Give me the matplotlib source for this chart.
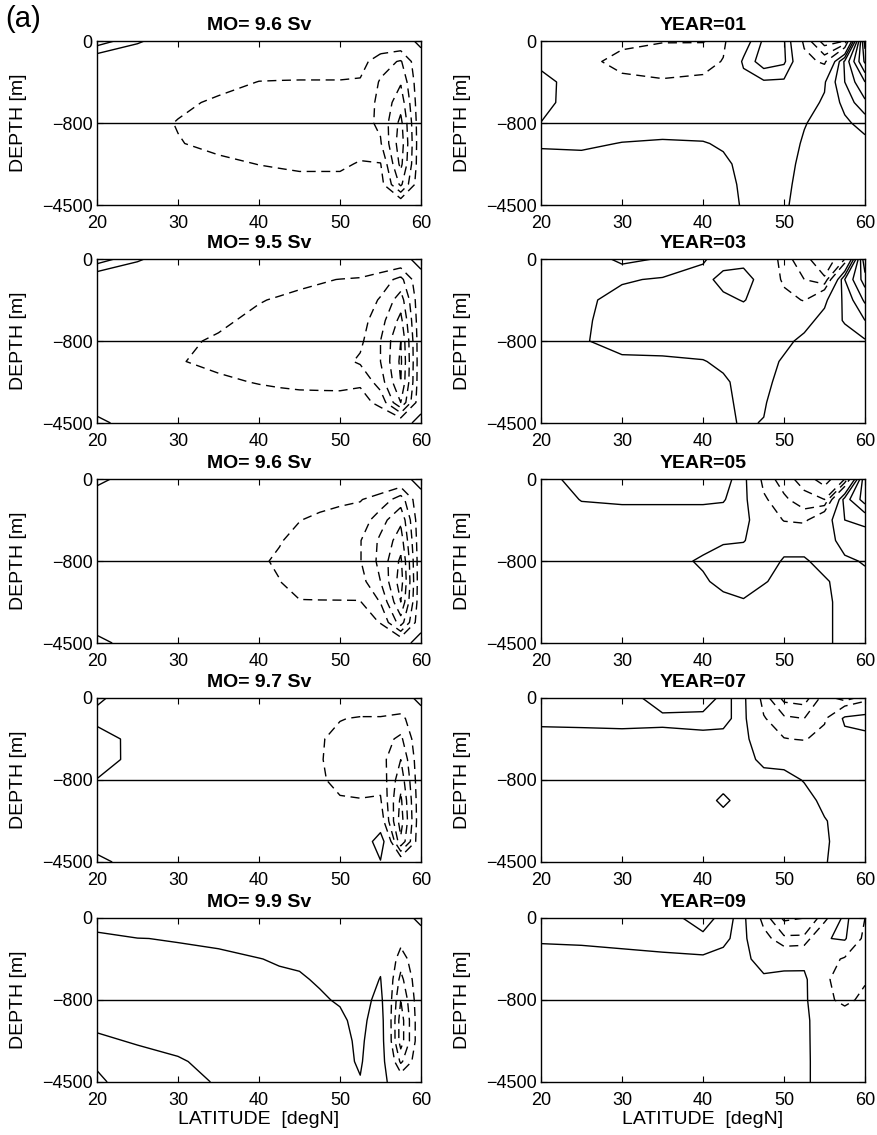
import numpy as np
import matplotlib
matplotlib.use("Agg")
import matplotlib.pyplot as plt

plt.rcParams['font.family'] = ['Liberation Sans', 'DejaVu Sans']
plt.rcParams['lines.scale_dashes'] = False
plt.rcParams['lines.dashed_pattern'] = [6.5, 4.0]

# ---------------- data ----------------
LAT = [20, 25, 30, 35, 40, 42.5, 45, 47.5, 50, 52.5, 55, 57.5, 60]
# pseudo-depth coordinate: 0 = surface, -1 = 800 m, -2 = 4500 m
DEPTH_POS = [0, -0.25, -0.5, -0.75, -1.0, -1.25, -1.5, -1.75, -2.0]
DEPTH_TICKS = [0, -1, -2]
DEPTH_LABELS = ['0', '\u2212800', '\u22124500']
LAT_TICKS = [20, 30, 40, 50, 60]
LEVELS_NEG = [-6, -5, -4, -3, -2, -1]
LEVELS_POS = [1, 2, 3, 4, 5, 6, 7, 8, 9]

LEFT_TITLES = ['MO= 9.6 Sv', 'MO= 9.5 Sv', 'MO= 9.6 Sv', 'MO= 9.7 Sv', 'MO= 9.9 Sv']
RIGHT_TITLES = ['YEAR=01', 'YEAR=03', 'YEAR=05', 'YEAR=07', 'YEAR=09']

# each field: one list per latitude column (LAT order), values top->bottom (DEPTH_POS order)
MO_1 = [
    [2.6, 0, 0, 0, 0, 0, 0, 0, 0],
    [1.2, -0.3, -0.4, -0.5, -0.6, -0.55, -0.4, -0.2, 0],
    [0, -0.3, -0.5, -0.8, -1.05, -0.95, -0.7, -0.4, 0],
    [0, -0.4, -0.7, -1.15, -1.35, -1.25, -0.8, -0.5, 0],
    [0, -0.5, -1.02, -1.3, -1.4, -1.4, -1.02, -0.6, 0],
    [0, -0.52, -1.04, -1.33, -1.43, -1.43, -1.1, -0.62, 0],
    [0, -0.55, -1.05, -1.35, -1.45, -1.45, -1.2, -0.65, 0],
    [0, -0.55, -1.05, -1.38, -1.48, -1.48, -1.2, -0.65, 0],
    [0, -0.55, -1.05, -1.4, -1.5, -1.5, -1.2, -0.65, 0],
    [0, -0.6, -1.1, -1.5, -1.6, -1.5, -0.9, -0.6, 0],
    [0, -1.6, -2.1, -2.2, -2.2, -1.9, -0.95, -0.6, 0],
    [0, -2.1, -2.9, -3.6, -4.3, -4.6, -4.3, -3.2, 0],
    [1.5, 0, 0, 0, 0, 0, 0, 0, 0],
]
MO_2 = [
    [2.6, 0, 0, 0, 0, 0, 0, 0, 1.5],
    [1.2, -0.3, -0.35, -0.4, -0.45, -0.45, -0.35, -0.2, 0],
    [0, -0.3, -0.45, -0.65, -0.85, -0.95, -0.7, -0.4, 0],
    [0, -0.4, -0.6, -0.85, -1.1, -1.2, -0.85, -0.5, 0],
    [0, -0.5, -0.95, -1.2, -1.3, -1.3, -1.05, -0.6, 0],
    [0, -0.65, -1.08, -1.28, -1.35, -1.35, -1.15, -0.6, 0],
    [0, -0.8, -1.2, -1.35, -1.4, -1.4, -1.25, -0.6, 0],
    [0, -0.92, -1.28, -1.42, -1.5, -1.5, -1.28, -0.6, 0],
    [0, -1.02, -1.35, -1.5, -1.6, -1.7, -1.3, -0.6, 0],
    [0, -1.1, -1.4, -1.6, -1.8, -2.15, -1.15, -0.6, 0],
    [0, -1.5, -2.1, -2.6, -3.0, -3.0, -2.5, -1.3, 0],
    [0, -2.3, -3.5, -4.3, -5.0, -5.2, -5.0, -4.0, 0],
    [2.0, 0, 0, 0, 0, 0, 0, 0, 1.8],
]
MO_3 = [
    [1.5, 0, 0, 0, 0, 0, 0, 0, 1.6],
    [0, -0.2, -0.25, -0.3, -0.35, -0.35, -0.3, -0.15, 0],
    [0, -0.25, -0.35, -0.45, -0.5, -0.5, -0.4, -0.2, 0],
    [0, -0.3, -0.45, -0.55, -0.65, -0.65, -0.5, -0.3, 0],
    [0, -0.4, -0.6, -0.75, -0.9, -0.9, -0.7, -0.4, 0],
    [0, -0.5, -0.75, -0.95, -1.1, -0.98, -0.8, -0.45, 0],
    [0, -0.6, -0.98, -1.2, -1.32, -1.35, -0.95, -0.5, 0],
    [0, -0.75, -1.15, -1.3, -1.4, -1.45, -0.95, -0.5, 0],
    [0, -0.9, -1.2, -1.4, -1.5, -1.5, -0.95, -0.5, 0],
    [0, -0.95, -1.4, -1.95, -1.95, -1.6, -0.95, -0.5, 0],
    [0, -1.4, -2.6, -3.2, -3.3, -3.0, -2.05, -1.05, 0],
    [0, -2.5, -3.8, -4.5, -5.2, -5.5, -5.0, -3.5, 0],
    [2.0, 0, 0, 0, 0, 0, 0, 0, 2.0],
]
MO_4 = [
    [1.3, 0.5, 1.8, 1.7, 0.95, 0, 0, 0, 1.6],
    [0, 0.1, 0.42, 0.5, 0.3, 0, 0, 0, 0],
    [0, 0, -0.05, -0.1, -0.1, -0.1, -0.05, 0, 0],
    [0, -0.1, -0.15, -0.2, -0.2, -0.2, -0.1, -0.05, 0],
    [0, -0.2, -0.3, -0.3, -0.35, -0.3, -0.2, -0.1, 0],
    [0, -0.3, -0.4, -0.42, -0.45, -0.4, -0.28, -0.15, 0],
    [0, -0.4, -0.5, -0.55, -0.55, -0.5, -0.35, -0.2, 0],
    [0, -0.65, -0.9, -0.92, -0.85, -0.7, -0.5, -0.3, 0],
    [0, -0.95, -1.3, -1.4, -1.3, -0.9, -0.6, -0.4, 0],
    [0, -1.1, -1.4, -1.5, -1.4, -0.95, -0.7, -0.5, 0],
    [0, -1.1, -1.6, -1.6, -1.3, -0.9, -0.3, 2.0, 0.9],
    [0, -1.3, -2.2, -3.0, -3.6, -4.2, -4.5, -3.8, 0],
    [1.6, 0, 0, 0, 0, 0, 0, 0, 0],
]
MO_5 = [
    [0, 1.45, 1.55, 1.65, 1.75, 1.85, 2.1, 2.84, 3.2],
    [0, 1.02, 1.3, 1.45, 1.6, 1.75, 1.95, 2.2, 2.4],
    [0, 0.95, 1.2, 1.35, 1.5, 1.65, 1.85, 2.05, 2.2],
    [0, 0.8, 1.2, 1.3, 1.4, 1.55, 1.7, 1.85, 1.95],
    [0, 0.6, 1.02, 1.25, 1.35, 1.45, 1.55, 1.6, 1.6],
    [0, 0.55, 0.92, 1.15, 1.3, 1.4, 1.5, 1.55, 1.55],
    [0, 0.5, 0.85, 1.1, 1.3, 1.4, 1.45, 1.5, 1.5],
    [0, 0.4, 0.65, 0.9, 1.12, 1.3, 1.4, 1.4, 1.4],
    [0, 0.3, 0.5, 0.7, 0.9, 1.2, 1.3, 1.25, 1.2],
    [0, 0.15, 0.25, 0.35, 0.5, 0.65, 0.8, 0.9, 1.05],
    [0, 0.3, 0.7, 1.05, 1.4, 1.7, 1.8, 1.8, 1.5],
    [0, -0.6, -1.5, -2.3, -3.0, -3.5, -3.5, -2.2, 0],
    [1.6, 0, 0, 0, 0, 0, 0, 0, 0],
]
YEAR_01 = [
    [0.3, 0.61, 1.5, 1.4, 0.98, 0.9, 1.3, 1.4, 1.4],
    [-0.3, -0.8, 0.2, 0.3, 0.5, 0.9, 1.2, 1.3, 1.3],
    [-0.85, -1.2, -0.85, -0.4, 0.7, 1.02, 1.2, 1.3, 1.3],
    [-0.95, -1.5, -0.9, -0.4, 0.6, 1.1, 1.3, 1.35, 1.35],
    [-0.97, -1.35, -0.8, -0.3, 0.6, 1.05, 1.3, 1.3, 1.3],
    [-1.2, -0.95, -0.3, 0.1, 0.5, 0.9, 1.15, 1.2, 1.2],
    [0.3, 1.2, 0.6, 0.3, 0.4, 0.6, 0.8, 0.9, 0.95],
    [2.2, 2.6, 0.85, 0.4, 0.3, 0.5, 0.6, 0.7, 0.7],
    [2.1, 2.2, 0.8, 0.5, 0.4, 0.6, 0.8, 0.9, 0.95],
    [-1.3, -0.5, 0.3, 0.7, 0.95, 1.1, 1.15, 1.15, 1.15],
    [-3.5, -1.3, 0.9, 1.1, 1.3, 1.3, 1.25, 1.2, 1.2],
    [-3.0, 3.2, 3.0, 2.3, 1.8, 1.4, 1.2, 1.15, 1.1],
    [8.5, 7.2, 5.0, 3.8, 2.4, 1.7, 1.4, 1.3, 1.2],
]
YEAR_03 = [
    [1.2, 1.3, 1.3, 1.3, 1.3, 1.3, 1.35, 1.4, 1.4],
    [1.2, 1.3, 1.2, 1.15, 1.1, 1.3, 1.35, 1.4, 1.4],
    [2.3, 1.1, 0.7, 0.6, 0.6, 1.2, 1.35, 1.4, 1.4],
    [1.9, 0.9, 0.5, 0.4, 0.6, 1.15, 1.3, 1.35, 1.35],
    [1.1, 0.7, 0.5, 0.4, 0.5, 1.05, 1.25, 1.3, 1.3],
    [0.6, 1.3, 0.8, 0.4, 0.4, 0.8, 1.15, 1.2, 1.1],
    [0.6, 1.5, 1.05, 0.5, 0.4, 0.5, 0.7, 0.8, 0.95],
    [0.3, 0.5, 0.6, 0.5, 0.5, 0.7, 0.85, 0.95, 1.02],
    [-1.6, -1.3, -0.5, 0.3, 0.8, 1.1, 1.2, 1.3, 1.4],
    [-2.6, -2.0, -1.1, 0.7, 1.2, 1.3, 1.3, 1.3, 1.3],
    [-4.0, -2.8, 0.8, 1.3, 1.3, 1.3, 1.3, 1.3, 1.3],
    [-2.0, 3.0, 2.2, 2.1, 1.5, 1.4, 1.35, 1.3, 1.3],
    [7.0, 5.5, 4.2, 3.0, 1.9, 1.4, 1.3, 1.3, 1.3],
]
YEAR_05 = [
    [1.3, 1.3, 1.3, 1.3, 1.3, 1.3, 1.3, 1.3, 1.3],
    [0.7, 0.98, 1.2, 1.3, 1.3, 1.3, 1.3, 1.3, 1.3],
    [0.5, 0.9, 1.3, 1.3, 1.3, 1.3, 1.3, 1.3, 1.3],
    [0.5, 0.9, 1.3, 1.3, 1.3, 1.3, 1.3, 1.3, 1.3],
    [0.6, 0.9, 1.3, 1.25, 0.9, 1.1, 1.3, 1.3, 1.3],
    [0.7, 0.95, 1.3, 1.1, 0.6, 0.8, 1.2, 1.3, 1.3],
    [1.4, 1.4, 1.3, 1.05, 0.5, 0.5, 1.1, 1.3, 1.3],
    [-1.4, -0.8, 0.3, 0.5, 0.5, 0.95, 1.3, 1.3, 1.3],
    [-2.5, -1.8, -1.1, 0.6, 1.1, 1.2, 1.3, 1.3, 1.3],
    [-3.5, -2.6, -1.3, 0.6, 1.1, 1.2, 1.3, 1.3, 1.3],
    [-4.5, -3.0, 0.4, 0.4, 0.7, 1.1, 1.2, 1.2, 1.2],
    [-3.0, 2.5, 2.0, 1.5, 0.8, 0.7, 0.7, 0.7, 0.7],
    [5.0, 4.5, 2.2, 1.6, 1.1, 0.7, 0.7, 0.7, 0.7],
]
YEAR_07 = [
    [0.5, 0.8, 1.3, 1.3, 1.3, 1.3, 1.3, 1.3, 1.3],
    [0.5, 0.8, 1.25, 1.3, 1.3, 1.3, 1.3, 1.3, 1.3],
    [0.6, 0.8, 1.2, 1.3, 1.3, 1.3, 1.3, 1.3, 1.3],
    [1.4, 0.85, 1.2, 1.3, 1.3, 1.3, 1.3, 1.3, 1.3],
    [1.4, 0.8, 1.15, 1.3, 1.3, 1.3, 1.3, 1.3, 1.3],
    [0.8, 0.8, 1.2, 1.3, 1.3, 0.85, 1.3, 1.3, 1.3],
    [1.3, 1.3, 1.3, 1.3, 1.3, 1.3, 1.3, 1.3, 1.3],
    [-1.5, -0.9, 0.2, 0.8, 1.3, 1.3, 1.3, 1.3, 1.3],
    [-3.3, -1.8, -0.95, 0.7, 1.3, 1.3, 1.3, 1.3, 1.3],
    [-3.5, -2.0, -1.1, 0.5, 0.95, 1.3, 1.3, 1.3, 1.3],
    [-1.5, -1.2, -0.5, 0.5, 0.6, 0.8, 1.05, 1.1, 1.05],
    [-2.5, 1.3, 0.5, 0.6, 0.6, 0.65, 0.7, 0.7, 0.7],
    [-1.5, 1.6, 0.6, 0.6, 0.6, 0.6, 0.6, 0.6, 0.6],
]
YEAR_09 = [
    [0.5, 0.9, 1.3, 1.3, 1.3, 1.3, 1.3, 1.3, 1.3],
    [0.5, 0.85, 1.3, 1.3, 1.3, 1.3, 1.3, 1.3, 1.3],
    [0.5, 0.8, 1.2, 1.3, 1.3, 1.3, 1.3, 1.3, 1.3],
    [0.6, 0.8, 1.1, 1.3, 1.3, 1.3, 1.3, 1.3, 1.3],
    [1.4, 0.8, 1.05, 1.3, 1.3, 1.3, 1.3, 1.3, 1.3],
    [0.7, 0.85, 1.2, 1.3, 1.3, 1.3, 1.3, 1.3, 1.3],
    [1.3, 1.3, 1.3, 1.3, 1.3, 1.3, 1.3, 1.3, 1.3],
    [-1.5, -0.5, 0.5, 1.2, 1.3, 1.3, 1.3, 1.3, 1.3],
    [-3.2, -1.8, 0.3, 1.5, 1.3, 1.3, 1.3, 1.3, 1.3],
    [-3.0, -1.8, 0.6, 1.3, 1.3, 1.3, 1.3, 1.3, 1.3],
    [-1.5, 0.9, -0.3, -0.7, -0.5, 0.2, 0.25, 0.3, 0.3],
    [1.5, 1.2, -1.2, -1.8, -1.5, 0.2, 0.3, 0.3, 0.3],
    [-1.0, -1.5, -1.5, -1.2, -0.5, 0.3, 0.3, 0.3, 0.3],
]

LEFT_FIELDS = [MO_1, MO_2, MO_3, MO_4, MO_5]
RIGHT_FIELDS = [YEAR_01, YEAR_03, YEAR_05, YEAR_07, YEAR_09]

# ---------------- layout ----------------
FIG_W, FIG_H = 877, 1135
fig = plt.figure(figsize=(FIG_W / 100, FIG_H / 100), dpi=100)
ROW_TOPS = [41, 259, 479, 698, 918]
AX_H = 164
COL_X = [97, 541]
AX_W = 324


def draw_panel(ax, field, title, bottom):
    Z = np.array(field, dtype=float).T
    zmin, zmax = Z.min(), Z.max()
    neg = [l for l in LEVELS_NEG if l > zmin]
    pos = [l for l in LEVELS_POS if l < zmax]
    if neg:
        ax.contour(LAT, DEPTH_POS, Z, levels=neg, colors='k',
                   linewidths=1.0, linestyles='dashed')
    if pos:
        ax.contour(LAT, DEPTH_POS, Z, levels=pos, colors='k',
                   linewidths=1.0, linestyles='solid')
    ax.axhline(-1, color='k', lw=1.0)
    ax.set_xlim(20, 60)
    ax.set_ylim(-2, 0)
    ax.set_xticks(LAT_TICKS)
    ax.set_xticklabels([str(t) for t in LAT_TICKS])
    ax.set_yticks(DEPTH_TICKS)
    ax.set_yticklabels(DEPTH_LABELS)
    ax.tick_params(direction='in', top=True, right=True, length=4,
                   width=0.8, labelsize=13)
    ax.tick_params(axis='x', pad=7)
    ax.tick_params(axis='y', pad=3)
    for s in ax.spines.values():
        s.set_linewidth(1.0)
    ax.set_title(title, fontsize=14, fontweight='bold', pad=8)
    ax.set_ylabel('DEPTH [m]', fontsize=14)
    ax.yaxis.set_label_coords(-0.215, 0.5)
    if bottom:
        ax.set_xlabel('LATITUDE  [degN]', fontsize=14)
        ax.xaxis.set_label_coords(0.5, -0.175)


for r in range(5):
    for c, (fields, titles) in enumerate([(LEFT_FIELDS, LEFT_TITLES),
                                          (RIGHT_FIELDS, RIGHT_TITLES)]):
        left = COL_X[c] / FIG_W
        bot = 1 - (ROW_TOPS[r] + AX_H) / FIG_H
        ax = fig.add_axes([left, bot, AX_W / FIG_W, AX_H / FIG_H])
        draw_panel(ax, fields[r], titles[r], r == 4)

fig.text(5 / FIG_W, 1 - 5 / FIG_H, '(a)', fontsize=21, va='top', ha='left')

fig.savefig('out.png', dpi=100)
